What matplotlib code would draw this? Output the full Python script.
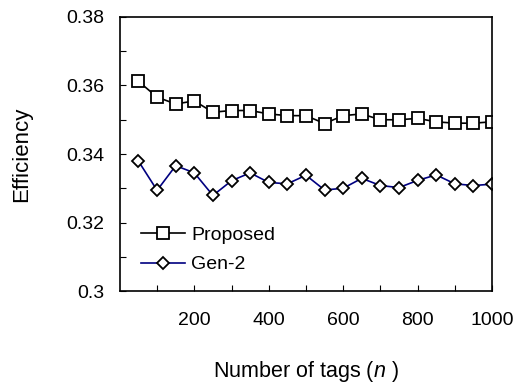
import matplotlib
matplotlib.use("Agg")
import matplotlib.pyplot as plt
from matplotlib.ticker import MultipleLocator, FixedLocator

plt.rcParams['font.family'] = ['Liberation Sans', 'DejaVu Sans']
plt.rcParams['mathtext.fontset'] = 'custom'
plt.rcParams['mathtext.it'] = 'Liberation Sans:italic'
plt.rcParams['mathtext.rm'] = 'Liberation Sans'

n_tags = [50, 100, 150, 200, 250, 300, 350, 400, 450, 500,
          550, 600, 650, 700, 750, 800, 850, 900, 950, 1000]
proposed = [0.3612, 0.3566, 0.3546, 0.3555, 0.3522, 0.3527, 0.3527, 0.3517, 0.3512, 0.3512,
            0.3489, 0.3512, 0.3517, 0.3500, 0.3500, 0.3504, 0.3494, 0.3490, 0.3490, 0.3494]
gen2 = [0.3379, 0.3294, 0.3366, 0.3345, 0.3279, 0.3322, 0.3345, 0.3317, 0.3313, 0.3338,
        0.3295, 0.3300, 0.3329, 0.3308, 0.3302, 0.3323, 0.3339, 0.3313, 0.3308, 0.3312]
x_labels = [200, 400, 600, 800, 1000]
y_labels = [0.3, 0.32, 0.34, 0.36, 0.38]

fig = plt.figure(figsize=(5.19, 3.86), dpi=100)
ax = fig.add_axes([0.231, 0.246, 0.717, 0.710])

ax.plot(n_tags, proposed, color='black', lw=1.2, marker='s', ms=8,
        mfc='white', mec='black', mew=1.3, label='Proposed')
ax.plot(n_tags, gen2, color='#000080', lw=1.2, marker='D', ms=6,
        mfc='white', mec='black', mew=1.3, label='Gen-2')

ax.set_xlim(0, 1000)
ax.set_ylim(0.3, 0.38)
ax.xaxis.set_major_locator(FixedLocator(x_labels))
ax.xaxis.set_minor_locator(FixedLocator([100, 300, 500, 700, 900]))
ax.yaxis.set_major_locator(FixedLocator(y_labels))
ax.yaxis.set_minor_locator(MultipleLocator(0.01))
ax.set_yticklabels(['0.3', '0.32', '0.34', '0.36', '0.38'])
ax.set_xticklabels([str(v) for v in x_labels])
ax.tick_params(which='both', direction='in', length=4, width=0.8, labelsize=14)
ax.tick_params(axis='x', which='both', top=False, pad=15)
ax.tick_params(axis='y', which='both', right=False, pad=11.5)
for s in ax.spines.values():
    s.set_linewidth(1.2)

ax.set_xlabel('Number of tags ($\\mathit{n}$ )', fontsize=15.5, labelpad=22)
ax.set_ylabel('Efficiency', fontsize=16, labelpad=24)

ax.legend(loc='lower left', frameon=False, fontsize=14, handlelength=2.3,
          handletextpad=0.3, borderaxespad=0.3, labelspacing=0.6,
          bbox_to_anchor=(0.019, 0.0145))

fig.savefig('out.png', dpi=100)
